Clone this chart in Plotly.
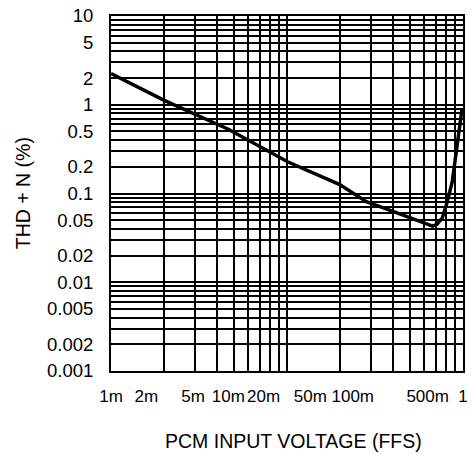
import plotly.graph_objects as go

# Curve data (PCM input voltage in FFS, THD+N in %)
input_ffs = [0.001, 0.00284, 0.01, 0.023, 0.032, 0.089, 0.15, 0.253, 0.5, 0.55, 0.6, 0.667, 0.735, 0.81, 0.98]
thd_pct = [2.25, 1.12, 0.53, 0.294, 0.228, 0.126, 0.081, 0.063, 0.045, 0.043, 0.045, 0.053, 0.081, 0.136, 0.89]

x_tickvals = [0.001, 0.002, 0.005, 0.01, 0.02, 0.05, 0.1, 0.5, 1]
x_ticktext = ["1m", "2m", "5m", "10m", "20m", "50m", "\u00a0\u00a0\u00a0100m", "500m", "1"]
y_tickvals = [0.001, 0.002, 0.005, 0.01, 0.02, 0.05, 0.1, 0.2, 0.5, 1, 2, 5, 10]
y_ticktext = ["0.001", "0.002", "0.005", "0.01", "0.02", "0.05", "0.1", "0.2", "0.5", "1", "2", "5", "10"]

# background grid: 2-decade log grid horizontally, 4-decade vertically
grid_x = [m * 10 ** d for d in range(2) for m in range(1, 10)] + [100]
grid_y = [m * 10.0 ** d for d in range(-3, 1) for m in range(1, 10)] + [10]

FONT = "Liberation Sans, Arial, sans-serif"

fig = go.Figure()
fig.add_trace(go.Scatter(x=[1, 100], y=[1, 1], xaxis="x2", yaxis="y",
                         mode="none", hoverinfo="skip", showlegend=False))
fig.add_trace(go.Scatter(x=input_ffs, y=thd_pct, mode="lines",
                         line=dict(color="black", width=3.5),
                         showlegend=False, cliponaxis=True))

fig.update_layout(
    width=473, height=455,
    margin=dict(l=111, r=5, t=13, b=84),
    paper_bgcolor="white", plot_bgcolor="white",
    font=dict(family=FONT, color="black"),
    xaxis=dict(type="log", range=[-3, 0], tickvals=x_tickvals, ticktext=x_ticktext,
               tickangle=0, showgrid=False, zeroline=False, ticks="", ticklabelstandoff=9,
               tickfont=dict(size=17, family=FONT),
               showline=True, linecolor="black", linewidth=2, mirror=True),
    xaxis2=dict(type="log", range=[0, 2], overlaying="x", side="bottom",
                showticklabels=False, ticks="", tickvals=grid_x,
                showgrid=True, gridcolor="black", gridwidth=1.5, zeroline=False,
                showline=False),
    yaxis=dict(type="log", range=[-3, 1], tickvals=y_tickvals, ticktext=y_ticktext,
               showgrid=True, gridcolor="black", gridwidth=1.5, zeroline=False,
               ticks="", ticklabelstandoff=12, tickfont=dict(size=18.5, family=FONT),
               minor=dict(tickvals=grid_y, showgrid=True, gridcolor="black", gridwidth=1.5, ticks=""),
               showline=True, linecolor="black", linewidth=2, mirror=True),
    annotations=[
        dict(text="PCM INPUT VOLTAGE (FFS)", xref="paper", yref="paper",
             x=(296 - 111) / 357, y=(371 - 442) / 358, xanchor="center", yanchor="middle",
             showarrow=False, font=dict(size=19.5, family=FONT)),
        dict(text="THD + N (%)", xref="paper", yref="paper", textangle=-90,
             x=(21.5 - 111) / 357, y=0.5, xanchor="center", yanchor="middle",
             showarrow=False, font=dict(size=19.5, family=FONT)),
    ],
)

fig.write_html("out.html", config={"displayModeBar": False},
               post_script="document.body.style.margin='0';document.body.style.overflow='hidden';")
